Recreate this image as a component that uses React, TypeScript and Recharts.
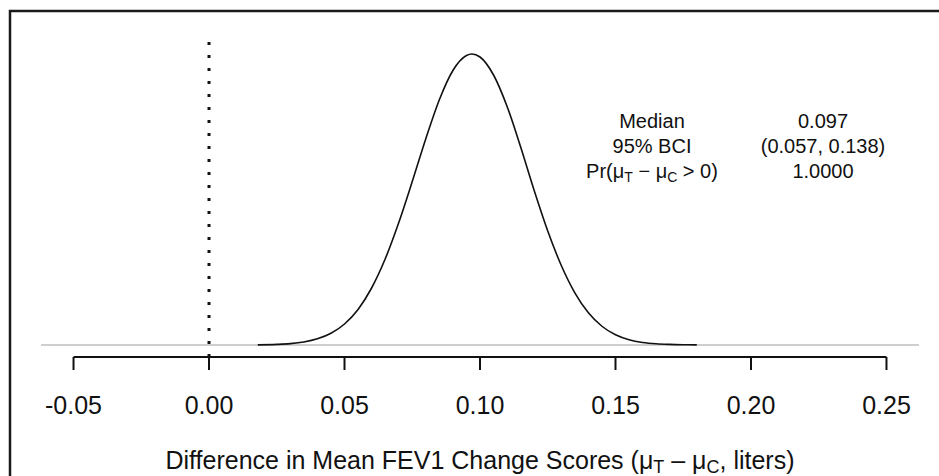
import { LineChart, Line, XAxis, YAxis, ReferenceLine, Customized } from 'recharts'

// posterior density of the difference
const diffs = [
  0.018, 0.025, 0.03, 0.035, 0.04, 0.045, 0.05, 0.055, 0.06, 0.065, 0.07, 0.075, 0.08, 0.085,
  0.09, 0.095, 0.097, 0.1, 0.105, 0.11, 0.115, 0.12, 0.125, 0.13, 0.135, 0.14, 0.145, 0.15,
  0.155, 0.16, 0.165, 0.17, 0.175, 0.18,
]
const density = [
  0.01, 0.04, 0.09, 0.2, 0.41, 0.78, 1.4, 2.37, 3.8, 5.73, 8.15, 10.9, 13.75, 16.35,
  18.3, 19.3, 19.4, 19.2, 18.0, 15.9, 13.2, 10.3, 7.6, 5.3, 3.48, 2.15, 1.25, 0.68,
  0.35, 0.17, 0.08, 0.04, 0.02, 0.01,
]
const xTicks = [-0.05, 0, 0.05, 0.1, 0.15, 0.2, 0.25]
const statLabels = ['Median', '95% BCI']
const statValues = ['0.097', '(0.057, 0.138)', '1.0000']

const data = diffs.map((x, i) => ({ x, d: density[i] }))

const FONT = '"Liberation Sans", Arial, sans-serif'

function Overlay() {
  const sub = { fontSize: 14, baselineShift: '-25%' } as const
  const tsub = { fontSize: 18, baselineShift: '-20%' } as const
  return (
    <g fontFamily={FONT} fill="#111">
      <path d="M10 476 L10 11 L939 11" fill="none" stroke="#1a1a1a" strokeWidth={2.5} />
      <g fontSize={20} textAnchor="middle">
        <text x={652} y={128}>{statLabels[0]}</text>
        <text x={652} y={153}>{statLabels[1]}</text>
        <text x={652} y={178}>
          Pr(μ<tspan style={sub}>T</tspan>
          <tspan> − μ</tspan>
          <tspan style={sub}>C</tspan>
          <tspan> &gt; 0)</tspan>
        </text>
        {statValues.map((v, i) => (
          <text key={v} x={823} y={128 + i * 25}>{v}</text>
        ))}
      </g>
      <text x={480} y={469} fontSize={25} textAnchor="middle">
        Difference in Mean FEV1 Change Scores (μ<tspan style={tsub}>T</tspan>
        <tspan> – μ</tspan>
        <tspan style={tsub}>C</tspan>
        <tspan>, liters)</tspan>
      </text>
    </g>
  )
}

export default function App() {
  return (
    <div style={{ position: 'absolute', left: 0, top: 0, background: '#fff', fontFamily: FONT }}>
      <LineChart width={939} height={476} data={data} margin={{ top: 42, right: 20, left: 41, bottom: 0 }}>
        <XAxis
          dataKey="x"
          type="number"
          domain={[-0.062, 0.262]}
          allowDataOverflow
          ticks={xTicks}
          tickFormatter={(v: number) => v.toFixed(2)}
          axisLine={false}
          tickSize={13}
          tickMargin={26}
          tickLine={{ stroke: '#111', strokeWidth: 2 }}
          tick={{ fill: '#111', fontSize: 25, fontFamily: FONT }}
          height={119}
        />
        <YAxis hide type="number" domain={[-0.8, 20.2]} allowDataOverflow />
        <ReferenceLine y={0} stroke="#bebebe" strokeWidth={1.5} />
        <ReferenceLine x={0} stroke="#111" strokeWidth={3} strokeDasharray="3 10" />
        <ReferenceLine
          segment={[{ x: -0.05, y: -0.8 }, { x: 0.25, y: -0.8 }]}
          stroke="#111"
          strokeWidth={2}
          ifOverflow="visible"
        />
        <Line
          type="monotone"
          dataKey="d"
          stroke="#111"
          strokeWidth={1.6}
          dot={false}
          isAnimationActive={false}
        />
        <Customized component={Overlay} />
      </LineChart>
    </div>
  )
}
